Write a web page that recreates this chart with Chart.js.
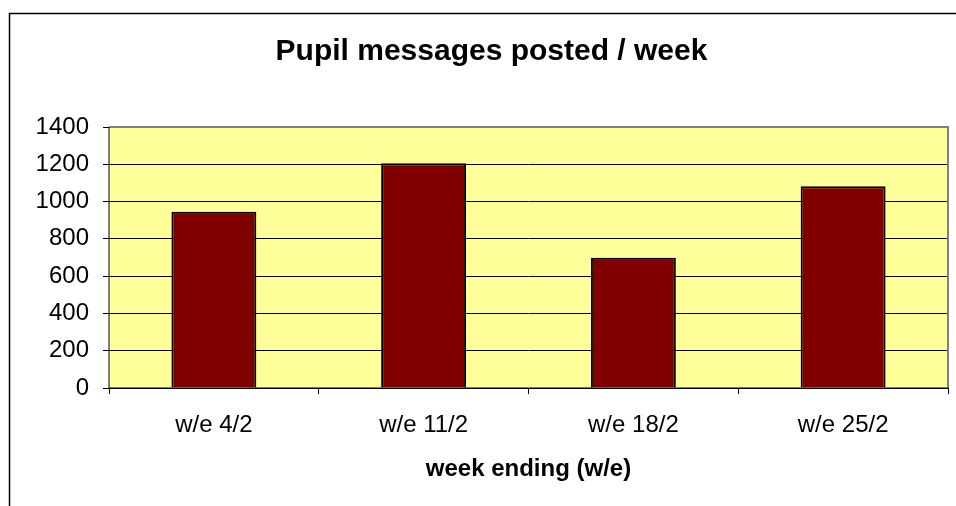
<!DOCTYPE html>
<html>
<head>
<meta charset="utf-8">
<script src="https://cdn.jsdelivr.net/npm/chart.js@4.4.1/dist/chart.umd.min.js"></script>
<style>
  html, body { margin: 0; padding: 0; background: #fff; }
  #wrap { position: relative; width: 956px; height: 506px; }
</style>
</head>
<body>
<div id="wrap"><canvas id="chart" width="956" height="506"></canvas></div>
<script>
const weeks = ["w/e 4/2", "w/e 11/2", "w/e 18/2", "w/e 25/2"];
const messages = [945, 1205, 698, 1082];
const yTicks = [0, 200, 400, 600, 800, 1000, 1200, 1400];

const FONT = "'Liberation Sans', Arial, sans-serif";

// frame around the whole chart + yellow plot area
const excelFrame = {
  id: "excelFrame",
  beforeDraw(chart) {
    const c = chart.ctx, a = chart.chartArea;
    c.save();
    c.strokeStyle = "#000";
    c.lineWidth = 1.5;
    c.beginPath();
    c.moveTo(9.5, 520);
    c.lineTo(9.5, 13.5);
    c.lineTo(970, 13.5);
    c.stroke();
    c.fillStyle = "#ffff99";
    c.fillRect(a.left, a.top, a.right - a.left, a.bottom - a.top);
    c.restore();
  },
  afterDatasetsDraw(chart) {
    const c = chart.ctx, a = chart.chartArea;
    c.save();
    c.strokeStyle = "#808080";
    c.lineWidth = 2;
    c.beginPath();
    c.moveTo(a.left, a.top);
    c.lineTo(a.right, a.top);
    c.lineTo(a.right, a.bottom);
    c.stroke();
    c.strokeStyle = "#000";
    c.lineWidth = 1;
    c.beginPath();
    c.moveTo(a.left, a.top);
    c.lineTo(a.left, a.bottom);
    c.lineTo(a.right, a.bottom);
    c.stroke();
    c.restore();
  }
};

new Chart(document.getElementById("chart"), {
  type: "bar",
  data: {
    labels: weeks,
    datasets: [{
      data: messages,
      backgroundColor: "#800000",
      borderColor: "#000",
      borderWidth: 2,
      barPercentage: 0.405,
      categoryPercentage: 1
    }]
  },
  options: {
    responsive: false,
    animation: false,
    // left padding shifts the title centre to match the original frame
    layout: { padding: { left: 35, right: 8, top: 0, bottom: 0 } },
    plugins: {
      legend: { display: false },
      tooltip: { enabled: false },
      title: {
        display: true,
        text: "Pupil messages posted / week",
        color: "#000",
        font: { family: FONT, size: 30, weight: "bold" },
        padding: { top: 34, bottom: 57 }
      }
    },
    scales: {
      x: {
        grid: { display: true, drawOnChartArea: false, offset: true, color: "#000", tickLength: 6 },
        border: { display: false },
        ticks: { color: "#000", font: { family: FONT, size: 24 }, padding: 17, maxRotation: 0 },
        title: {
          display: true,
          text: "week ending (w/e)",
          color: "#000",
          font: { family: FONT, size: 24, weight: "bold" },
          padding: { top: 6, bottom: 22 }
        },
        afterFit(scale) { scale.height = 506 - 388; }
      },
      y: {
        min: 0,
        max: 1400,
        afterBuildTicks(scale) { scale.ticks = yTicks.map(v => ({ value: v })); },
        grid: { color: "#000", lineWidth: 1, tickLength: 6 },
        border: { display: false },
        ticks: { color: "#000", font: { family: FONT, size: 24 }, padding: 14, callback: v => String(v) },
        afterFit(scale) { scale.width = 109 - 35; }
      }
    }
  },
  plugins: [excelFrame]
});
</script>
</body>
</html>
